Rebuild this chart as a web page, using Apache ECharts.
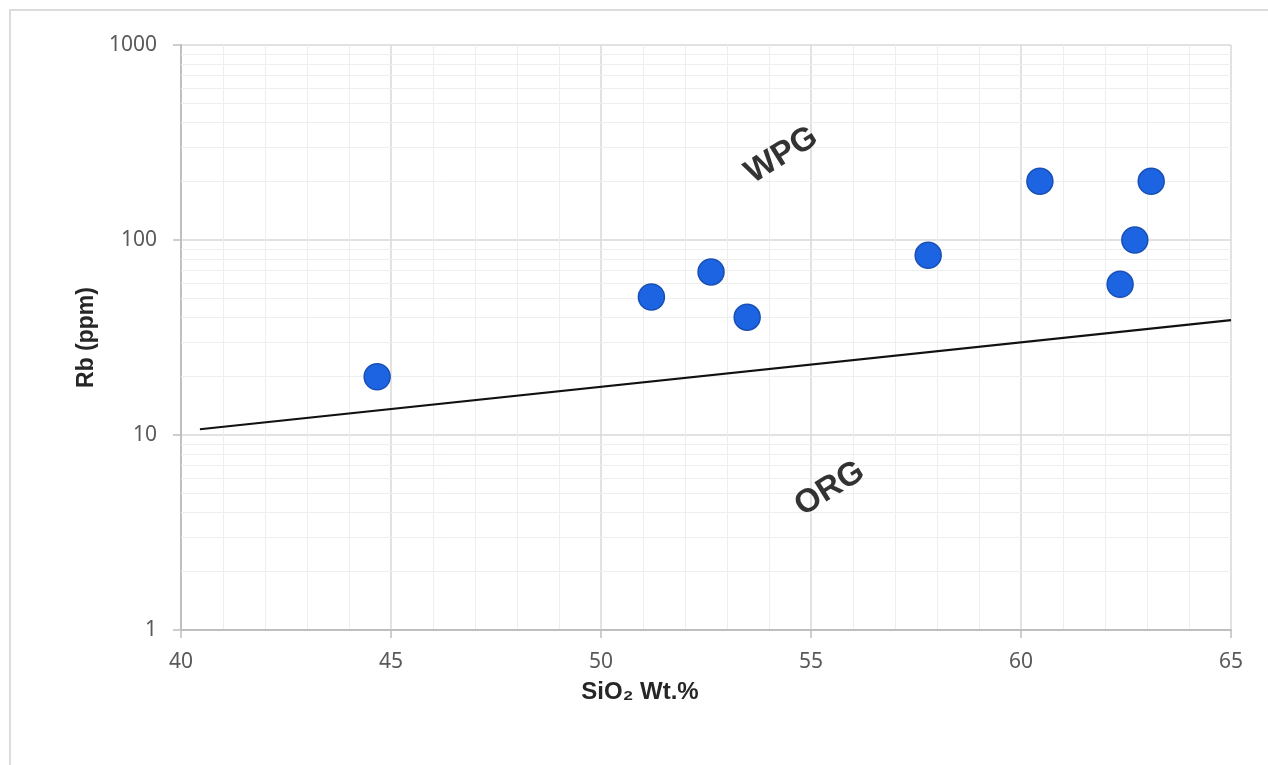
<!DOCTYPE html>
<html>
<head>
<meta charset="utf-8">
<script src="https://cdn.jsdelivr.net/npm/echarts@6/dist/echarts.min.js"></script>
<style>
html,body{margin:0;padding:0;background:#fff;}
#chart{width:1268px;height:765px;}
</style>
</head>
<body>
<div id="chart"></div>
<script>
// Sample points: SiO2 (wt.%) and Rb (ppm)
const sio2 = [44.67, 51.2, 52.62, 53.48, 57.79, 60.45, 62.36, 62.71, 63.1];
const rb   = [19.9, 51, 68.6, 40.2, 83.5, 200, 59.3, 100, 200];
// WPG / ORG discrimination boundary (end points)
const boundaryX = [40.45, 65];
const boundaryY = [10.7, 38.8];
// Field labels
const fieldNames = ['WPG', 'ORG'];
const fieldX = [54.3, 55.45];
const fieldY = [272, 5.3];
// Axis ticks
const xTicks = [40, 45, 50, 55, 60, 65];
const yTicks = [1, 10, 100, 1000];
const yMinor = [2,3,4,5,6,7,8,9,20,30,40,50,60,70,80,90,200,300,400,500,600,700,800,900];

const chart = echarts.init(document.getElementById('chart'));
const font = "'Noto Sans', 'Liberation Sans', sans-serif";
const boldFont = "'Liberation Sans', Arial, sans-serif";

chart.setOption({
  backgroundColor: '#ffffff',
  animation: false,
  graphic: [{
    type: 'rect', silent: true, z: -10,
    shape: { x: 10, y: 10, width: 1300, height: 800 },
    style: { fill: 'none', stroke: '#dcdcdc', lineWidth: 2 }
  }],
  grid: { left: 181, right: 37, top: 45, bottom: 135 },
  xAxis: {
    type: 'value', min: xTicks[0], max: xTicks[xTicks.length - 1], interval: 5,
    name: 'SiO₂ Wt.%', nameLocation: 'middle', nameGap: 50,
    nameTextStyle: { fontFamily: boldFont, fontWeight: 'bold', fontSize: 24, color: '#262626', padding: [0, 132, 0, 0] },
    axisLine: { show: true, lineStyle: { color: '#bfbfbf', width: 2 } },
    axisTick: { show: true, length: 8, lineStyle: { color: '#bfbfbf', width: 1.5 } },
    axisLabel: { fontFamily: font, fontSize: 21, color: '#595959', margin: 22 },
    splitLine: { show: true, lineStyle: { color: '#d9d9d9', width: 1.5 } },
    minorTick: { show: false, splitNumber: 5 },
    minorSplitLine: { show: true, lineStyle: { color: '#eeeeee', width: 1 } }
  },
  yAxis: {
    type: 'log', logBase: 10, min: 1, max: 1000,
    name: 'Rb (ppm)', nameLocation: 'middle', nameGap: 80, nameRotate: 90,
    nameTextStyle: { fontFamily: boldFont, fontWeight: 'bold', fontSize: 23, color: '#262626' },
    axisLine: { show: true, lineStyle: { color: '#bfbfbf', width: 2 } },
    axisTick: { show: true, length: 8, lineStyle: { color: '#bfbfbf', width: 1.5 } },
    axisLabel: { fontFamily: font, fontSize: 21, color: '#595959', margin: 24, formatter: v => String(v) },
    splitLine: { show: true, lineStyle: { color: '#d9d9d9', width: 1.5 } }
  },
  series: [
    {
      type: 'line', data: [], z: 0, silent: true,
      markLine: {
        silent: true, symbol: ['none', 'none'], animation: false,
        label: { show: false },
        lineStyle: { color: '#eeeeee', width: 1, type: 'solid' },
        emphasis: { disabled: true },
        data: yMinor.map(v => ({ yAxis: v }))
      }
    },
    {
      type: 'line', zlevel: 1, z: 3, silent: true, showSymbol: false, symbol: 'none',
      lineStyle: { color: '#111111', width: 2.2 },
      data: boundaryX.map((x, i) => [x, boundaryY[i]])
    },
    {
      type: 'scatter', zlevel: 1, z: 4, symbolSize: 26,
      itemStyle: { color: '#1c64e2', borderColor: '#1a50b5', borderWidth: 1.5, opacity: 1 },
      data: sio2.map((x, i) => [x, rb[i]])
    },
    {
      type: 'scatter', zlevel: 1, z: 5, symbolSize: 1, silent: true,
      itemStyle: { color: 'rgba(0,0,0,0)' },
      label: {
        show: true, position: 'inside', rotate: 32,
        formatter: p => p.name,
        fontFamily: boldFont, fontWeight: 'bold', fontSize: 33, color: '#000'
      },
      data: fieldNames.map((n, i) => ({ name: n, value: [fieldX[i], fieldY[i]] }))
    }
  ]
});
</script>
</body>
</html>
